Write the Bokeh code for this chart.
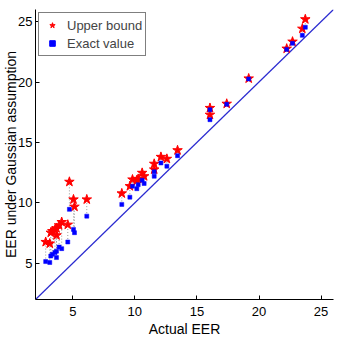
from bokeh.plotting import figure
from bokeh.models import FixedTicker, Legend, LegendItem, Range1d
from bokeh.embed import file_html
from bokeh.resources import INLINE

actual = [2.82, 3.15, 3.23, 3.36, 3.57, 3.69, 3.69, 3.9, 4.11, 4.6, 4.73, 5.06, 5.14, 6.13,
          8.95, 9.6, 9.81, 10.16, 10.27, 10.59, 10.75, 11.56, 11.56, 12.1, 12.58, 13.44,
          16.05, 16.05, 17.4, 19.17, 22.23, 22.7, 23.49, 23.73]
upper = [6.76, 6.63, 7.53, 7.66, 7.78, 7.89, 7.31, 8.14, 8.41, 8.19, 11.74, 10.28, 9.68, 10.28,
         10.78, 11.38, 11.93, 11.87, 11.98, 12.48, 12.2, 13.23, 12.76, 13.8, 13.64, 14.35,
         17.85, 17.29, 18.2, 20.29, 22.76, 23.34, 24.41, 25.19]
exact = [5.14, 5.06, 5.6, 5.75, 5.88, 6.0, 5.47, 6.34, 6.21, 6.76, 9.46, 7.8, 7.53, 8.9,
         9.87, 10.47, 11.38, 11.17, 11.5, 11.87, 11.6, 12.57, 12.2, 13.3, 13.03, 13.9,
         17.7, 16.88, 18.15, 20.25, 22.7, 23.2, 23.86, 24.53]
diag = [2, 26]
ticks = [5, 10, 15, 20, 25]
offscreen = [-100]

p = figure(width=340, height=340, output_backend="svg", toolbar_location=None,
           x_range=Range1d(2, 26), y_range=Range1d(2, 26),
           min_border_left=35, min_border_right=7, min_border_top=9, min_border_bottom=41)
p.outline_line_color = None
p.grid.visible = False
p.background_fill_color = "white"

p.line(diag, diag, line_color="#2a2ad0", line_width=1.2)
p.segment(x0=actual, y0=exact, x1=actual, y1=upper, line_color="#999999",
          line_dash="1 2", line_width=1)
p.scatter(actual, upper, marker="star", size=10, fill_color="#ff0000",
          line_color="#ff0000", line_width=1)
p.scatter(actual, exact, marker="square", size=4, fill_color="#0000ff",
          line_color="#0000ff", line_width=0.5)

# legend-only renderers (point lies outside the fixed ranges)
leg_star = p.scatter(offscreen, offscreen, marker="star", size=6,
                     fill_color="#ff0000", line_color="#ff0000")
leg_sq = p.scatter(offscreen, offscreen, marker="square", size=4,
                   fill_color="#0000ff", line_color="#0000ff")

for ax in (p.xaxis[0], p.yaxis[0]):
    ax.ticker = FixedTicker(ticks=ticks)
    ax.minor_tick_line_color = None
    ax.major_tick_in = 4
    ax.major_tick_out = 0
    ax.axis_line_color = "black"
    ax.major_tick_line_color = "black"
    ax.major_label_text_font = "Liberation Sans"
    ax.major_label_text_font_size = "13px"
    ax.major_label_text_color = "black"
    ax.axis_label_text_font = "Liberation Sans"
    ax.axis_label_text_font_style = "normal"
    ax.axis_label_text_color = "black"

p.xaxis.axis_label = "Actual EER"
p.xaxis.axis_label_text_font_size = "14px"
p.xaxis.major_label_standoff = 7
p.xaxis.axis_label_standoff = 2
p.yaxis.axis_label = "EER under Gaussian assumption"
p.yaxis.axis_label_text_font_size = "14px"
p.yaxis.major_label_standoff = 3
p.yaxis.axis_label_standoff = -4

legend = Legend(items=[LegendItem(label="Upper bound", renderers=[leg_star]),
                       LegendItem(label="Exact value", renderers=[leg_sq])],
                location="top_left")
legend.margin = 3
legend.padding = 3
legend.spacing = 0
legend.label_height = 18
legend.glyph_height = 14
legend.glyph_width = 20
legend.label_standoff = 5
legend.label_text_font = "Liberation Sans"
legend.label_text_font_size = "13px"
legend.border_line_color = "black"
legend.border_line_width = 1
legend.background_fill_alpha = 1
p.add_layout(legend)

open("out.html", "w").write(file_html(p, INLINE))
